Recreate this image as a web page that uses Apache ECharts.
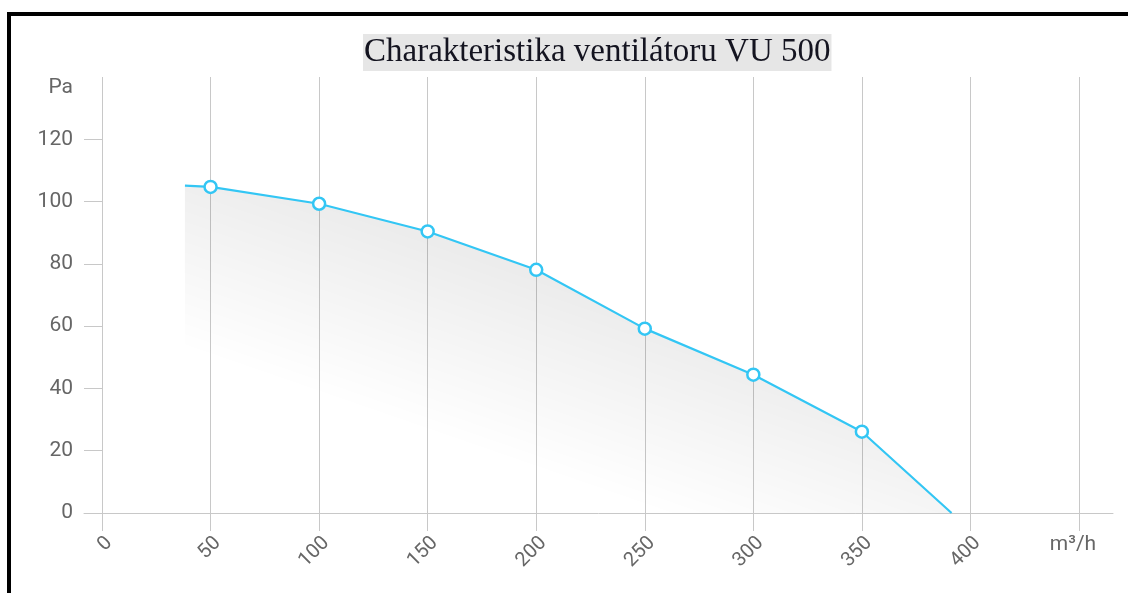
<!DOCTYPE html>
<html>
<head>
<meta charset="utf-8">
<script src="https://cdn.jsdelivr.net/npm/echarts@6/dist/echarts.min.js"></script>
<style>
html,body{margin:0;padding:0;background:#fff;overflow:hidden;}
#frame{position:absolute;left:7px;top:12px;width:1400px;height:800px;border-top:4px solid #000;border-left:4px solid #000;}
#chart{position:absolute;left:0;top:0;width:1128px;height:593px;}
</style>
</head>
<body>
<div id="frame"></div>
<div id="chart"></div>
<script>
// Data
const titleText = 'Charakteristika ventilátoru VU 500';
const flow = [38.2, 50, 100, 150, 200, 250, 300, 350, 391.3];      // m³/h
const pressure = [105.1, 104.7, 99.3, 90.4, 78.1, 59.2, 44.4, 26.1, 0]; // Pa
const markerShown = [false, true, true, true, true, true, true, true, false];
const yTicks = [0, 20, 40, 60, 80, 100, 120];
const yName = 'Pa';
const xName = 'm³/h';

const chart = echarts.init(document.getElementById('chart'), null, {renderer: 'canvas'});
const labelColor = '#666';
const gridColor = '#c8c8c8';
const lineColor = '#33c6f4';

const points = flow.map((x, i) => [x, pressure[i]]);

chart.setOption({
  animation: false,
  backgroundColor: 'transparent',
  title: {
    text: titleText,
    left: 363,
    top: 34,
    padding: [0, 1],
    backgroundColor: '#e6e6e6',
    textStyle: {
      fontFamily: 'Liberation Serif',
      fontSize: 33,
      lineHeight: 37,
      fontWeight: 'normal',
      color: '#141420'
    }
  },
  grid: [
    {left: 102, right: 49, top: 77, bottom: 80, containLabel: false},
    {left: 84, right: 15, top: 77, bottom: 80, containLabel: false}
  ],
  xAxis: [{
    type: 'value',
    gridIndex: 0,
    min: 0, max: 450, interval: 50,
    axisLine: {show: false},
    axisTick: {show: true, length: 18, lineStyle: {color: gridColor, width: 1}},
    splitLine: {show: true, lineStyle: {color: gridColor, width: 1}},
    axisLabel: {
      rotate: 45, margin: 20, align: 'right', verticalAlign: 'top',
      color: labelColor, fontFamily: 'Roboto', fontSize: 20,
      formatter: v => (v === 450 ? '' : String(v))
    }
  }, {
    type: 'value',
    gridIndex: 0,
    position: 'bottom',
    min: 0, max: 450, interval: 50,
    axisLine: {show: false}, axisTick: {show: false}, splitLine: {show: false},
    axisLabel: {
      margin: 21, align: 'center', padding: [0, 12, 0, 0],
      color: labelColor, fontFamily: 'Roboto', fontSize: 21,
      formatter: v => (v === 450 ? xName : '')
    }
  }, {
    type: 'value',
    gridIndex: 1,
    position: 'bottom',
    min: 0, max: 1,
    axisLine: {show: true, onZero: false, lineStyle: {color: gridColor, width: 1}},
    axisTick: {show: false}, axisLabel: {show: false}, splitLine: {show: false}
  }],
  yAxis: [{
    type: 'value',
    gridIndex: 0,
    min: 0, max: 140, interval: 20,
    name: yName,
    nameLocation: 'end',
    nameGap: -11,
    nameTextStyle: {color: labelColor, fontFamily: 'Roboto', fontSize: 21, align: 'right', verticalAlign: 'middle', padding: [0, 29, 0, 0]},
    axisLine: {show: false},
    axisTick: {show: true, length: 18, customValues: yTicks, lineStyle: {color: gridColor, width: 1}},
    splitLine: {show: false},
    axisLabel: {
      margin: 29, color: labelColor, fontFamily: 'Roboto', fontSize: 21,
      customValues: yTicks
    }
  }, {
    type: 'value',
    gridIndex: 1,
    min: 0, max: 1,
    show: false
  }],
  series: [{
    type: 'line',
    xAxisIndex: 0,
    yAxisIndex: 0,
    data: points,
    smooth: false,
    symbol: (val, params) => (markerShown[params.dataIndex] ? 'circle' : 'none'),
    symbolSize: 12,
    showSymbol: true,
    itemStyle: {color: '#ffffff', borderColor: lineColor, borderWidth: 2.5},
    lineStyle: {color: lineColor, width: 2.2},
    areaStyle: {
      origin: 'start',
      color: new echarts.graphic.LinearGradient(0, 0.5, 0.118, -0.3, [
        {offset: 0, color: 'rgba(0,0,0,0)'},
        {offset: 1, color: 'rgba(0,0,0,0.16)'}
      ])
    },
    z: 3
  }]
});
</script>
</body>
</html>
